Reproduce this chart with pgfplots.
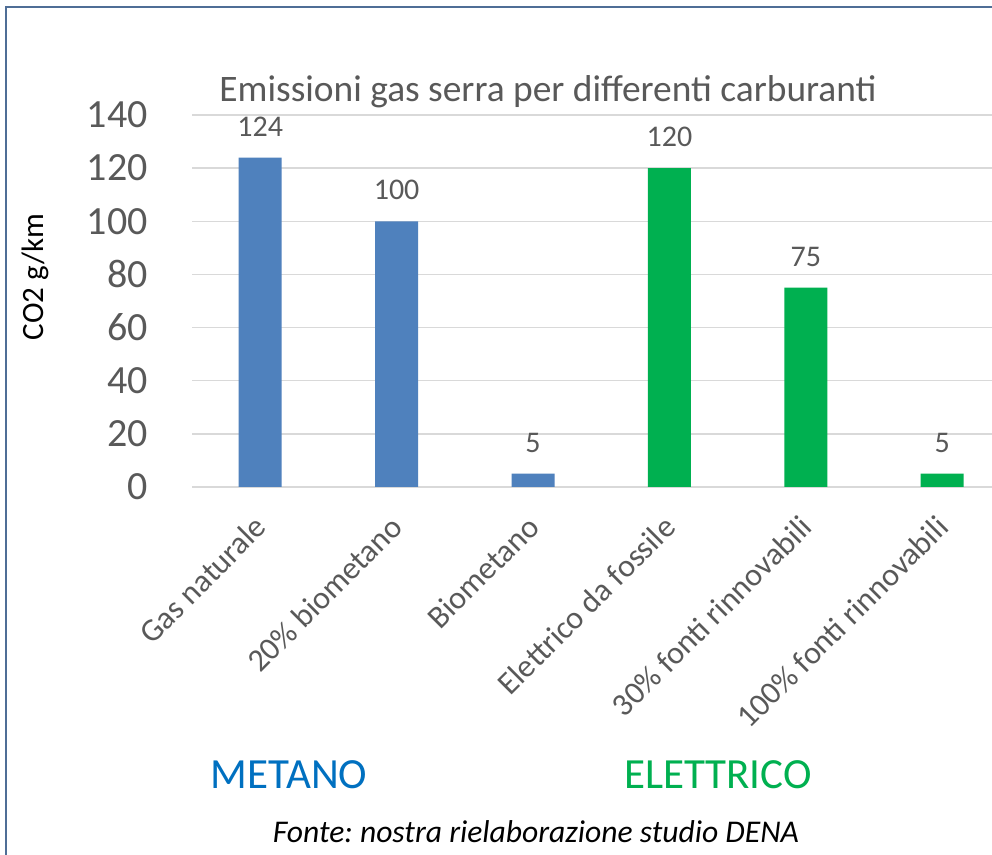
\documentclass[border=0pt]{standalone}
\usepackage{fontspec}
\setmainfont{Carlito}
\usepackage{pgfplots}
\pgfplotsset{compat=1.18}
\definecolor{barblue}{HTML}{4F81BD}
\definecolor{bargreen}{HTML}{00B050}
\definecolor{txtgray}{HTML}{595959}
\definecolor{gridgray}{HTML}{D9D9D9}
\definecolor{metblue}{HTML}{0070C0}
\definecolor{framecol}{HTML}{4F6E96}
\frenchspacing
\begin{document}
\begin{tikzpicture}[x=0.5pt,y=0.5pt]
\useasboundingbox (0,0) rectangle (992,855);
\fill[white] (0,0) rectangle (992,855);
\draw[framecol, line width=1pt] (5.5,847.5) rectangle (1010,-20);
\begin{axis}[at={(96pt,184pt)}, anchor=south west, scale only axis,
  width=400pt, height=186pt,
  xmin=-0.5, xmax=5.365, ymin=0, ymax=140, ytick={0,20,...,140},
  xtick={0,1,2,3,4,5},
  xticklabels={Gas naturale,20\% biometano,Biometano,Elettrico da fossile,30\% fonti rinnovabili,100\% fonti rinnovabili},
  axis line style={draw=none}, major tick length=0pt,
  ymajorgrids, grid style={gridgray, line width=0.75pt},
  ybar, bar width=21.5pt, bar shift=0pt,
  /pgf/number format/assume math mode=true,
  yticklabel style={font=\fontsize{20}{24}\selectfont, text=txtgray, anchor=east, inner sep=0pt, xshift=-22pt},
  xticklabel style={font=\fontsize{16}{19}\selectfont, text=txtgray, rotate=45, anchor=east, inner sep=0pt, xshift=-12pt, yshift=-12.4pt},
  nodes near coords,
  nodes near coords style={font=\fontsize{15}{18}\selectfont, text=txtgray, anchor=south, inner sep=0pt, yshift=10.5pt},
  clip=false,
]
\addplot[fill=barblue, draw=none] coordinates {(0,124) (1,100) (2,5)};
\addplot[fill=bargreen, draw=none] coordinates {(3,120) (4,75) (5,5)};
\end{axis}
\node[anchor=base, text=txtgray, font=\fontsize{18.7}{22}\selectfont] at (548,753) {Emissioni gas serra per differenti carburanti};
\node[rotate=90, font=\fontsize{15.5}{18}\selectfont] at (35,578) {CO2 g/km};
\node[text=metblue, font=\fontsize{21.5}{25}\selectfont] at (289,80) {METANO};
\node[text=bargreen, font=\fontsize{21.5}{25}\selectfont] at (718,80) {ELETTRICO};
\node[anchor=base, font=\itshape\fontsize{15.8}{19}\selectfont] at (536,12) {Fonte: nostra rielaborazione studio DENA};
\end{tikzpicture}
\end{document}
